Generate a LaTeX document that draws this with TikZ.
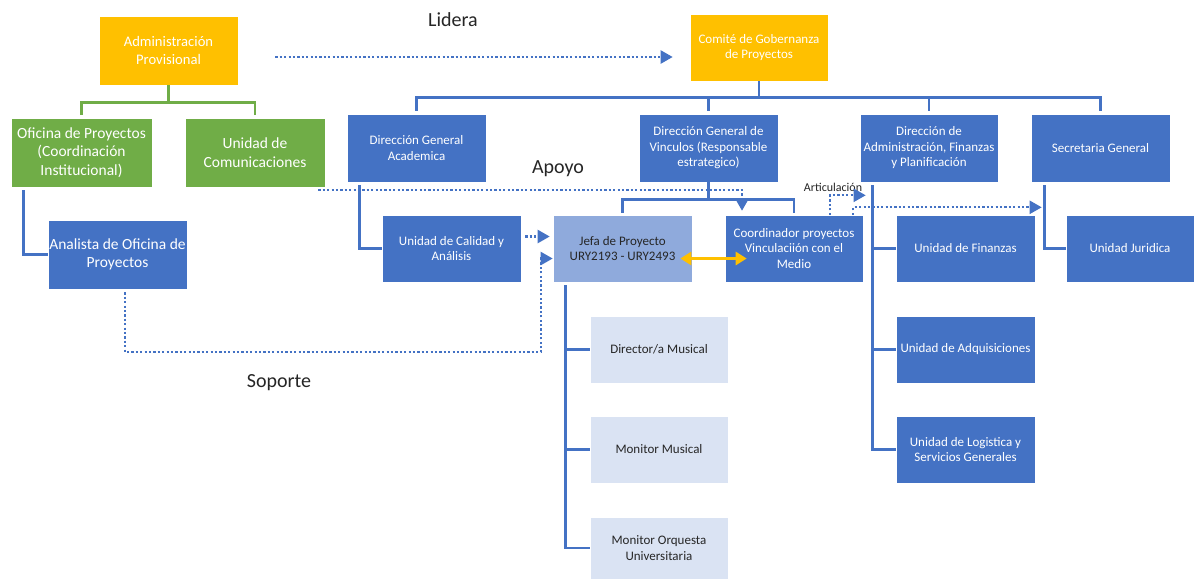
\documentclass[tikz,border=0pt]{standalone}
\usepackage{fontspec}
\setmainfont{Carlito}
\usetikzlibrary{arrows.meta,calc}
\definecolor{cy}{HTML}{FFC000}
\definecolor{cg}{HTML}{70AD47}
\definecolor{cb}{HTML}{4472C4}
\definecolor{clb}{HTML}{8FAADC}
\definecolor{cvl}{HTML}{DAE3F3}
\definecolor{ctx}{HTML}{262626}
\begin{document}
\begin{tikzpicture}[x=1pt,y=-1pt,
  box/.style={draw=white, line width=0.6pt, inner sep=0pt, align=center, text=white},
  bigtxt/.style={font=\fontsize{15.5}{18.5}\selectfont},
  smalltxt/.style={font=\fontsize{13}{15.5}\selectfont},
  ybox/.style={box, fill=cy},
  gbox/.style={box, fill=cg, bigtxt},
  bbox/.style={box, fill=cb, smalltxt},
  lbbox/.style={box, fill=clb, smalltxt, text=ctx},
  vlbox/.style={box, fill=cvl, smalltxt, text=ctx},
  tree/.style={draw=cb, line width=2.8pt},
  gtree/.style={draw=cg, line width=2.8pt},
  dotln/.style={draw=cb, line width=2.2pt, dash pattern=on 2.2pt off 2.2pt, -{Triangle[length=12pt,width=13pt]}},
  yarr/.style={draw=cy, line width=2.8pt, {Triangle[length=11pt,width=13pt]}-{Triangle[length=11pt,width=13pt]}},
  lbl/.style={text=ctx, font=\fontsize{20}{24}\selectfont, inner sep=0pt}
]
\useasboundingbox[fill=white] (0,0) rectangle (1194,579);

% boxes
\node[ybox, minimum width=139pt, minimum height=69pt, font=\fontsize{14.6}{17.5}\selectfont] (admin) at (168.5,50.5) {Administración\\Provisional};
\node[ybox, minimum width=138pt, minimum height=67pt, smalltxt] (comite) at (759,47.5) {Comité de Gobernanza\\de Proyectos};
\node[gbox, minimum width=141pt, minimum height=69pt] (ofi) at (81.5,152.5) {Oficina de Proyectos\\(Coordinación\\Institucional)};
\node[gbox, minimum width=140pt, minimum height=69pt] (com) at (255,152.5) {Unidad de\\Comunicaciones};
\node[box, fill=cb, bigtxt, minimum width=139pt, minimum height=69pt] (ana) at (117.5,254.5) {Analista de Oficina de\\Proyectos};

\node[bbox, minimum width=139pt, minimum height=68pt] (dga) at (416.5,148) {Dirección General\\Academica};
\node[bbox, minimum width=139pt, minimum height=68pt] (dgv) at (708.5,148) {Dirección General de\\Vinculos (Responsable\\estrategico)};
\node[bbox, minimum width=138pt, minimum height=68pt] (dafp) at (929,148) {Dirección de\\Administración, Finanzas\\y Planificación};
\node[bbox, minimum width=139pt, minimum height=68pt] (sg) at (1100.5,148) {Secretaria General};

\node[bbox, minimum width=139pt, minimum height=67pt] (cal) at (451.5,248.5) {Unidad de Calidad y\\Análisis};
\node[lbbox, minimum width=139pt, minimum height=67pt] (jefa) at (622.5,248.5) {Jefa de Proyecto\\URY2193 - URY2493};
\node[bbox, minimum width=138pt, minimum height=67pt] (coord) at (794,248.5) {Coordinador proyectos\\Vinculaciión con el\\Medio};
\node[bbox, minimum width=139pt, minimum height=67pt] (fin) at (965.5,248.5) {Unidad de Finanzas};
\node[bbox, minimum width=128pt, minimum height=67pt] (jur) at (1130,248.5) {Unidad Juridica};
\node[bbox, minimum width=139pt, minimum height=67pt] (adq) at (965.5,349.5) {Unidad de Adquisiciones};
\node[bbox, minimum width=139pt, minimum height=67pt] (log) at (965.5,449.5) {Unidad de Logistica y\\Servicios Generales};
\node[vlbox, minimum width=138pt, minimum height=67pt] (dm) at (659,349.5) {Director/a Musical};
\node[vlbox, minimum width=138pt, minimum height=67pt] (mm) at (659,449.5) {Monitor Musical};
\node[vlbox, minimum width=138pt, minimum height=62pt] (mo) at (659,548) {Monitor Orquesta\\Universitaria};

% labels
\node[lbl] (tlid) at (453,20) {Lidera};
\node[lbl] (tapo) at (558,169) {Apoyo};
\node[lbl] (tsop) at (279,383) {Soporte};
\node[text=ctx, font=\fontsize{12}{14}\selectfont, inner sep=0pt] (tart) at (833,187) {Articulación};

% green tree
\draw[gtree] (admin.south) -- ++(0,17) coordinate (ab);
\draw[gtree] ($(ofi.north)+(0,-3)$) |- (ab);
\draw[gtree] ($(com.north)+(0,-3)$) |- (ab);
\draw[tree] ($(ofi.south west)+(13,3)$) |- (ana.west);

% blue tree from comite
\draw[tree] (comite.south) -- ++(0,16) coordinate (cbt);
\draw[tree] ($(dga.north)+(0,-3)$) |- (cbt);
\draw[tree] ($(dgv.north)+(0,-3)$) |- (cbt);
\draw[tree] ($(dafp.north)+(0,-3)$) |- (cbt);
\draw[tree] ($(sg.north)+(0,-3)$) |- (cbt);

\draw[tree] ($(dga.south west)+(13,3)$) |- (cal.west);
\draw[tree] (dgv.south) -- ++(0,17) coordinate (vb);
\draw[tree] ($(jefa.north)+(0,-2)$) |- (vb);
\draw[tree] ($(coord.north)+(0,-2)$) |- (vb);

\coordinate (dv) at ($(dafp.south west)+(13,3)$);
\draw[tree] (dv) |- (log.west);
\draw[tree] (fin.west) -- (fin.west -| dv);
\draw[tree] (adq.west) -- (adq.west -| dv);
\draw[tree] ($(sg.south west)+(14,3)$) |- (jur.west);

\coordinate (jv) at ($(jefa.south west)+(13,3)$);
\draw[tree] (jv) |- (mo.west);
\draw[tree] (dm.west) -- (dm.west -| jv);
\draw[tree] (mm.west) -- (mm.west -| jv);

% dotted connectors
\draw[dotln] ($(admin.east)+(37,6.5)$) -- ($(comite.west)+(-17,9.5)$);
\draw[dotln] ($(com.south east)+(-7,3)$) -| ($(coord.north)+(-52,-4)$);
\draw[dotln] ($(cal.east)+(4,-12)$) -- ($(jefa.west)+(-3,-12)$);
\coordinate (sp) at (541,352);
\draw[dotln] ($(ana.south)+(7.5,3)$) |- (sp) |- ($(jefa.west)+(0,10)$);
\draw[dotln] ($(coord.north east)+(-33,0)$) |- ($(dafp.south west)+(6,13)$);
\draw[dotln] ($(coord.north east)+(-10,0)$) |- ($(sg.south west)+(11,25)$);
\draw[yarr] ($(jefa.east)+(-12,10)$) -- ($(coord.west)+(22,10)$);
\end{tikzpicture}
\end{document}
